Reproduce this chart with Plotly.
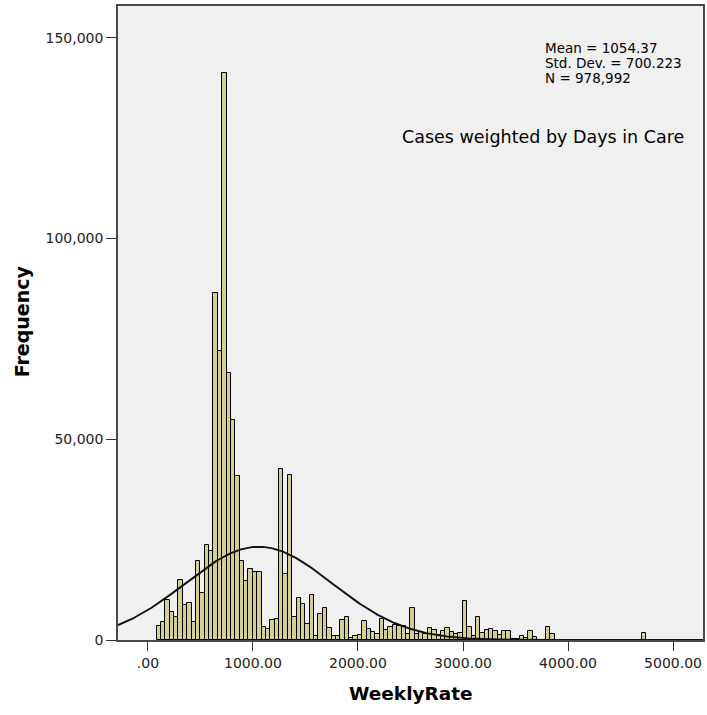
import numpy as np
import plotly.graph_objects as go

# Histogram of WeeklyRate (cases weighted by days in care)
bin_start = 82.0
bin_width = 41.65
counts = [
    3570, 4400, 9960, 7060, 5650, 14950, 8720, 9220, 4570, 19600,
    11630, 23750, 22250, 86530, 72080, 141250, 66430, 54800, 40940, 19600,
    14780, 17690, 16860, 16860, 3150, 2740, 4980, 5230, 42700, 16440,
    41000, 5730, 10480, 8850, 3870, 11130, 900, 6480, 8050, 3030,
    900, 900, 4900, 5810, 400, 900, 1200, 4700, 2740, 2080,
    1500, 5150, 2490, 3320, 3740, 3570, 3400, 1500, 7890, 1500,
    1870, 1450, 3030, 2370, 1330, 2290, 3030, 2080, 1540, 1830,
    9700, 3300, 1100, 5850, 1700, 2370, 2780, 2160, 1330, 2360,
    2360, 200, 300, 900, 400, 2360, 700, 0, 0, 3200,
    1500, 0, 0, 0, 0, 0, 0, 0, 0, 0,
    0, 0, 0, 0, 0, 0, 0, 0, 0, 0,
    0, 1800,
]

# Summary statistics shown on the chart
mean_val = 1054.37
std_val = 700.223
n_val = 978992

x_tick_vals = [0, 1000, 2000, 3000, 4000, 5000]
x_tick_text = [".00", "1000.00", "2000.00", "3000.00", "4000.00", "5000.00"]
y_tick_vals = [0, 50000, 100000, 150000]
y_tick_text = ["0", "50,000", "100,000", "150,000"]

x_range = [-285, 5285]
y_range = [0, 157900]

centers = [bin_start + bin_width * (i + 0.5) for i in range(len(counts))]

# Normal curve scaled to the histogram (N * bin width * density)
xs = np.linspace(x_range[0], x_range[1], 600)
ys = n_val * bin_width / (std_val * np.sqrt(2 * np.pi)) * np.exp(-0.5 * ((xs - mean_val) / std_val) ** 2)

fig = go.Figure()
fig.add_trace(go.Bar(
    x=centers, y=counts, width=bin_width,
    marker=dict(color="#D3CE94", line=dict(color="#000000", width=1)),
    hoverinfo="x+y",
))
fig.add_trace(go.Scatter(
    x=xs, y=ys, mode="lines",
    line=dict(color="#111111", width=1.9),
    hoverinfo="skip",
))

FONT = "DejaVu Sans, Arial, sans-serif"
L, R, T, B = 118, 2, 6, 75
W, H = 707, 715
pw, ph = W - L - R, H - T - B

def px_x(p):
    return (p - L) / pw

def px_y(p):
    return (H - B - p) / ph

fig.update_layout(
    width=W, height=H,
    margin=dict(l=L, r=R, t=T, b=B, pad=0),
    paper_bgcolor="#FFFFFF",
    plot_bgcolor="#F0F0F0",
    bargap=0,
    showlegend=False,
    font=dict(family=FONT, color="#222222", size=14),
)
fig.update_xaxes(
    range=x_range, tickvals=x_tick_vals, ticktext=x_tick_text,
    ticks="outside", ticklen=9, tickwidth=1.3, tickcolor="#333333",
    showline=True, linecolor="#4a4a4a", linewidth=1.5, mirror=True,
    showgrid=False, zeroline=False,
    tickfont=dict(family=FONT, size=14, color="#222222"),
)
fig.update_yaxes(
    range=y_range, tickvals=y_tick_vals, ticktext=y_tick_text,
    ticks="outside", ticklen=10, tickwidth=1.3, tickcolor="#333333",
    showline=True, linecolor="#4a4a4a", linewidth=1.5, mirror=True,
    showgrid=False, zeroline=False,
    tickfont=dict(family=FONT, size=14, color="#222222"),
)

annotations = [
    dict(text="Frequency", x=px_x(22), y=px_y(321), textangle=-90,
         font=dict(family=FONT, size=19, color="#000000", weight="bold")),
    dict(text="WeeklyRate", x=px_x(412), y=px_y(693),
         font=dict(family=FONT, size=18.5, color="#000000", weight="bold")),
    dict(text=f"Mean = {mean_val:.2f}", x=px_x(544), y=px_y(47.5), xanchor="left",
         font=dict(family=FONT, size=13.5, color="#000000")),
    dict(text=f"Std. Dev. = {std_val:.3f}", x=px_x(544), y=px_y(63), xanchor="left",
         font=dict(family=FONT, size=13.5, color="#000000")),
    dict(text=f"N = {n_val:,}", x=px_x(544), y=px_y(78.5), xanchor="left",
         font=dict(family=FONT, size=13.5, color="#000000")),
    dict(text="Cases weighted by Days in Care", x=px_x(688), y=px_y(137), xanchor="right",
         font=dict(family=FONT, size=17.5, color="#000000")),
]
for a in annotations:
    a.setdefault("xanchor", "center")
    a.update(xref="paper", yref="paper", yanchor="middle", showarrow=False)
fig.update_layout(annotations=annotations)

fig.write_html("out.html")
